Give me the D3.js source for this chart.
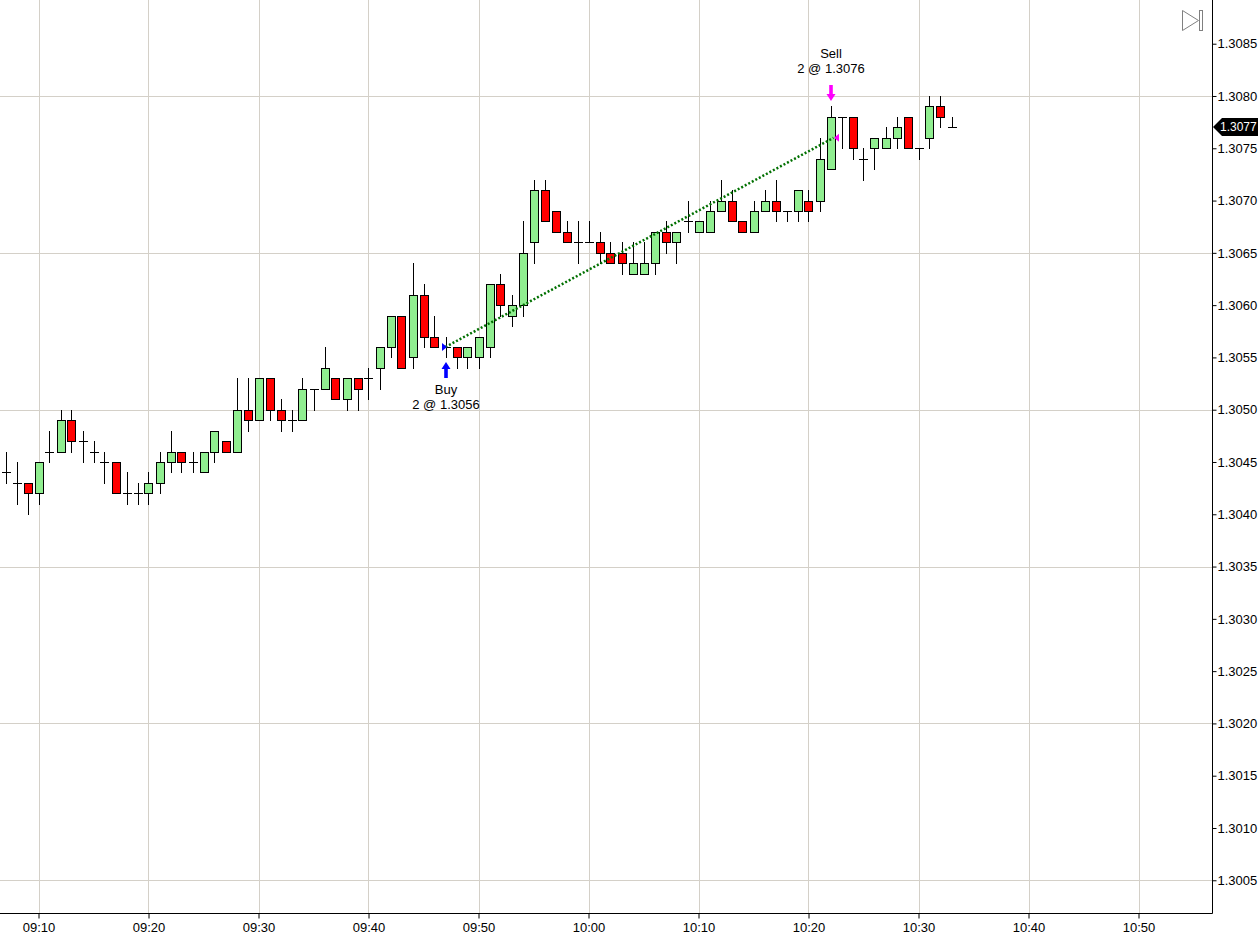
<!DOCTYPE html>
<html>
<head>
<meta charset="utf-8">
<script src="https://cdn.jsdelivr.net/npm/d3@7"></script>
<style>
  html, body { margin: 0; padding: 0; background: #fff; }
  svg { display: block; font-family: "Liberation Sans", Arial, sans-serif; }
</style>
</head>
<body>
<svg id="chart" width="1258" height="946"></svg>
<script>

// Bars, 1 minute each

var times = ["09:07","09:08","09:09","09:10","09:11","09:12","09:13","09:14","09:15","09:16",
  "09:17","09:18","09:19","09:20","09:21","09:22","09:23","09:24","09:25","09:26",
  "09:27","09:28","09:29","09:30","09:31","09:32","09:33","09:34","09:35","09:36",
  "09:37","09:38","09:39","09:40","09:41","09:42","09:43","09:44","09:45","09:46",
  "09:47","09:48","09:49","09:50","09:51","09:52","09:53","09:54","09:55","09:56",
  "09:57","09:58","09:59","10:00","10:01","10:02","10:03","10:04","10:05","10:06",
  "10:07","10:08","10:09","10:10","10:11","10:12","10:13","10:14","10:15","10:16",
  "10:17","10:18","10:19","10:20","10:21","10:22","10:23","10:24","10:25","10:26",
  "10:27","10:28","10:29","10:30","10:31","10:32","10:33"];

var opens = [1.3044,1.3043,1.3043,1.3042,1.3046,1.3046,1.3049,1.3047,1.3046,1.3045,
  1.3045,1.3042,1.3042,1.3042,1.3043,1.3045,1.3046,1.3045,1.3044,1.3046,
  1.3047,1.3046,1.3050,1.3049,1.3053,1.3050,1.3049,1.3049,1.3052,1.3052,
  1.3053,1.3051,1.3053,1.3053,1.3054,1.3056,1.3059,1.3055,1.3061,1.3057,
  1.3056,1.3056,1.3055,1.3055,1.3056,1.3062,1.3059,1.3060,1.3066,1.3071,
  1.3069,1.3067,1.3066,1.3066,1.3066,1.3065,1.3065,1.3063,1.3063,1.3064,
  1.3067,1.3066,1.3068,1.3067,1.3067,1.3069,1.3070,1.3068,1.3067,1.3069,
  1.3070,1.3069,1.3069,1.3070,1.3070,1.3073,1.3078,1.3078,1.3074,1.3075,
  1.3075,1.3076,1.3078,1.3075,1.3076,1.3079,1.3077];

var highs = [1.3046,1.3045,1.3043,1.3045,1.3048,1.3050,1.3050,1.3048,1.3047,1.3046,
  1.3045,1.3044,1.3043,1.3044,1.3046,1.3048,1.3046,1.3046,1.3046,1.3048,
  1.3047,1.3053,1.3053,1.3053,1.3053,1.3051,1.3050,1.3053,1.3052,1.3056,
  1.3053,1.3053,1.3053,1.3054,1.3056,1.3059,1.3059,1.3064,1.3062,1.3059,
  1.3057,1.3056,1.3056,1.3057,1.3062,1.3063,1.3061,1.3068,1.3072,1.3072,
  1.3069,1.3068,1.3068,1.3068,1.3067,1.3066,1.3066,1.3066,1.3066,1.3067,
  1.3068,1.3067,1.3070,1.3068,1.3070,1.3072,1.3071,1.3068,1.3070,1.3071,
  1.3072,1.3069,1.3071,1.3071,1.3076,1.3079,1.3078,1.3078,1.3075,1.3076,
  1.3077,1.3078,1.3078,1.3075,1.3080,1.3080,1.3078];

var lows = [1.3043,1.3041,1.3040,1.3041,1.3045,1.3046,1.3046,1.3045,1.3045,1.3043,
  1.3042,1.3041,1.3041,1.3041,1.3042,1.3044,1.3044,1.3044,1.3044,1.3045,
  1.3046,1.3046,1.3048,1.3049,1.3049,1.3048,1.3048,1.3049,1.3050,1.3052,
  1.3051,1.3050,1.3050,1.3051,1.3052,1.3055,1.3054,1.3054,1.3056,1.3056,
  1.3055,1.3054,1.3054,1.3054,1.3055,1.3059,1.3058,1.3059,1.3064,1.3068,
  1.3067,1.3066,1.3064,1.3066,1.3064,1.3064,1.3063,1.3063,1.3063,1.3063,
  1.3065,1.3064,1.3067,1.3067,1.3067,1.3069,1.3068,1.3067,1.3067,1.3069,
  1.3068,1.3068,1.3068,1.3068,1.3069,1.3073,1.3075,1.3074,1.3072,1.3073,
  1.3075,1.3075,1.3075,1.3074,1.3075,1.3077,1.3077];

var closes = [1.3044,1.3043,1.3042,1.3045,1.3046,1.3049,1.3047,1.3047,1.3046,1.3045,
  1.3042,1.3042,1.3042,1.3043,1.3045,1.3046,1.3045,1.3045,1.3046,1.3048,
  1.3046,1.3050,1.3049,1.3053,1.3050,1.3049,1.3049,1.3052,1.3052,1.3054,
  1.3051,1.3053,1.3052,1.3053,1.3056,1.3059,1.3054,1.3061,1.3057,1.3056,
  1.3056,1.3055,1.3056,1.3057,1.3062,1.3060,1.3060,1.3065,1.3071,1.3068,
  1.3067,1.3066,1.3066,1.3066,1.3065,1.3064,1.3064,1.3064,1.3064,1.3067,
  1.3066,1.3067,1.3068,1.3068,1.3069,1.3070,1.3068,1.3067,1.3069,1.3070,
  1.3069,1.3069,1.3071,1.3069,1.3074,1.3078,1.3078,1.3075,1.3074,1.3076,
  1.3076,1.3077,1.3075,1.3075,1.3079,1.3078,1.3077];

// Trades

var tradeSides  = ["Buy", "Sell"],
    tradeTimes  = ["09:47", "10:22"],
    tradeQty    = [2, 2],
    tradePrices = [1.3056, 1.3076];

// Axis ticks

var xTickLabels = ["09:10","09:20","09:30","09:40","09:50","10:00","10:10","10:20","10:30","10:40","10:50"];
var yTickValues = [1.3005,1.3010,1.3015,1.3020,1.3025,1.3030,1.3035,1.3040,1.3045,
  1.3050,1.3055,1.3060,1.3065,1.3070,1.3075,1.3080,1.3085];
var yGridValues = [1.3005,1.3020,1.3035,1.3050,1.3065,1.3080];

var lastPrice = closes[closes.length - 1];

// Layout

var plotW = 1212,
    plotH = 913,
    boxW = 8,
    gridColor = "#d4d0c8",
    upColor = "#90ee90",
    downColor = "#ff0000";

var parseT = d3.timeParse("%H:%M");

var bars = times.map(function(t, i) {
  return { t: parseT(t), o: opens[i], h: highs[i], l: lows[i], c: closes[i] };
});

// 11px per minute, 09:10 sits at 38.5
var x = d3.scaleTime()
  .domain([parseT("09:06"), parseT("10:57")])
  .range([38.5 - 4 * 11, 38.5 + 107 * 11]);

var y = d3.scaleLinear()
  .domain([1.300187, 1.308918])
  .range([plotH, 0]);

var svg = d3.select("#chart");

var px = function(v) { return Math.round(v) + 0.5; };

// Grid

svg.append("g").selectAll("line")
  .data(xTickLabels)
  .enter().append("line")
  .attr("x1", function(d) { return px(x(parseT(d))); })
  .attr("x2", function(d) { return px(x(parseT(d))); })
  .attr("y1", 0)
  .attr("y2", plotH)
  .style("stroke", gridColor);

svg.append("g").selectAll("line")
  .data(yGridValues)
  .enter().append("line")
  .attr("x1", 0)
  .attr("x2", plotW)
  .attr("y1", function(d) { return px(y(d)); })
  .attr("y2", function(d) { return px(y(d)); })
  .style("stroke", gridColor);

// Candles

var candle = svg.append("g").selectAll(".candle")
  .data(bars)
  .enter()
  .append("g")
  .attr("class", "candle")
  .attr("shape-rendering", "crispEdges");

candle.append("line")
  .attr("x1", function(d) { return px(x(d.t)); })
  .attr("x2", function(d) { return px(x(d.t)); })
  .attr("y1", function(d) { return Math.round(y(d.h)); })
  .attr("y2", function(d) { return Math.round(y(d.l)) + 1; })
  .style("stroke", "#000")
  .style("stroke-width", 1.5);

candle.filter(function(d) { return d.o !== d.c; })
  .append("rect")
  .attr("x", function(d) { return Math.round(x(d.t)) - boxW / 2 + 0.5; })
  .attr("y", function(d) { return Math.round(y(Math.max(d.o, d.c))) + 0.5; })
  .attr("width", boxW)
  .attr("height", function(d) { return Math.round(y(Math.min(d.o, d.c))) - Math.round(y(Math.max(d.o, d.c))); })
  .style("fill", function(d) { return d.c > d.o ? upColor : downColor; })
  .style("stroke", "#000")
  .style("stroke-width", 1.5);

candle.filter(function(d) { return d.o === d.c; })
  .append("line")
  .attr("x1", function(d) { return Math.round(x(d.t)) - boxW / 2; })
  .attr("x2", function(d) { return Math.round(x(d.t)) + boxW / 2 + 1; })
  .attr("y1", function(d) { return px(y(d.c)); })
  .attr("y2", function(d) { return px(y(d.c)); })
  .style("stroke", "#000")
  .style("stroke-width", 1.5);

// Trade line, entry to exit

var buyX = x(parseT(tradeTimes[0])),
    buyY = y(tradePrices[0]),
    sellX = x(parseT(tradeTimes[1])),
    sellY = y(tradePrices[1]);

svg.append("line")
  .attr("x1", buyX)
  .attr("y1", buyY)
  .attr("x2", sellX + 3)
  .attr("y2", sellY)
  .style("stroke", "#007000")
  .style("stroke-width", 2.5)
  .style("stroke-dasharray", "2,2");

// Trade markers

var trades = tradeSides.map(function(s, i) {
  return { side: s, t: parseT(tradeTimes[i]), q: tradeQty[i], p: tradePrices[i], bar: bars[times.indexOf(tradeTimes[i])] };
});

trades.forEach(function(d) {
  var cx = Math.round(x(d.t)),
      py = y(d.p),
      g = svg.append("g"),
      color, ay;
  if (d.side === "Buy") {
    color = "#0000ff";
    ay = Math.round(y(d.bar.l)) + 5;
    g.append("path")
      .attr("d", "M" + (cx - 4) + "," + (py - 4) + "L" + (cx + 1) + "," + py + "L" + (cx - 4) + "," + (py + 4) + "Z")
      .style("fill", color);
    g.append("path")
      .attr("d", "M" + cx + "," + ay + "L" + (cx + 4.5) + "," + (ay + 7) + "L" + (cx + 1.8) + "," + (ay + 7) +
        "L" + (cx + 1.8) + "," + (ay + 16) + "L" + (cx - 1.8) + "," + (ay + 16) + "L" + (cx - 1.8) + "," + (ay + 7) +
        "L" + (cx - 4.5) + "," + (ay + 7) + "Z")
      .style("fill", color);
    g.append("text").attr("x", cx).attr("y", ay + 32).text(d.side);
    g.append("text").attr("x", cx).attr("y", ay + 47).text(d.q + " @ " + d3.format(".4f")(d.p));
  } else {
    color = "#ff00ff";
    ay = Math.round(y(d.bar.h)) - 5;
    g.append("path")
      .attr("d", "M" + (cx + 8) + "," + (py - 4) + "L" + (cx + 3) + "," + py + "L" + (cx + 8) + "," + (py + 4) + "Z")
      .style("fill", color);
    g.append("path")
      .attr("d", "M" + cx + "," + ay + "L" + (cx + 4.5) + "," + (ay - 7) + "L" + (cx + 1.8) + "," + (ay - 7) +
        "L" + (cx + 1.8) + "," + (ay - 16) + "L" + (cx - 1.8) + "," + (ay - 16) + "L" + (cx - 1.8) + "," + (ay - 7) +
        "L" + (cx - 4.5) + "," + (ay - 7) + "Z")
      .style("fill", color);
    g.append("text").attr("x", cx).attr("y", ay - 43).text(d.side);
    g.append("text").attr("x", cx).attr("y", ay - 28).text(d.q + " @ " + d3.format(".4f")(d.p));
  }
  g.selectAll("text")
    .style("text-anchor", "middle")
    .style("font-size", "13px")
    .style("fill", "#000");
});

// Axes

var xAxis = d3.axisBottom(x)
  .tickValues(xTickLabels.map(parseT))
  .tickFormat(d3.timeFormat("%H:%M"))
  .tickSize(5)
  .tickSizeOuter(0)
  .tickPadding(4);

svg.append("g")
  .attr("transform", "translate(0," + (plotH + 0.5) + ")")
  .call(xAxis)
  .call(function(g) {
    g.select(".domain").attr("d", "M0,0H" + (plotW + 0.5));
    g.selectAll("text").attr("font-size", 13).attr("font-family", "Liberation Sans, Arial, sans-serif").style("fill", "#000");
  });

var yAxis = d3.axisRight(y)
  .tickValues(yTickValues)
  .tickFormat(d3.format(".4f"))
  .tickSize(4)
  .tickSizeOuter(0)
  .tickPadding(1);

svg.append("g")
  .attr("transform", "translate(" + (plotW + 0.5) + ",0)")
  .call(yAxis)
  .call(function(g) {
    g.select(".domain").attr("d", "M0,0V" + (plotH + 0.5));
    g.selectAll("text").attr("font-size", 13).attr("font-family", "Liberation Sans, Arial, sans-serif").style("fill", "#000");
  });

// Last price flag

var ly = Math.round(y(lastPrice));
svg.append("path")
  .attr("d", "M" + (plotW + 1) + "," + ly + "L" + (plotW + 10) + "," + (ly - 9) + "L1258," + (ly - 9) + "L1258," + (ly + 9) + "L" + (plotW + 10) + "," + (ly + 9) + "Z")
  .style("fill", "#000");
svg.append("text")
  .attr("x", plotW + 8)
  .attr("y", ly)
  .attr("dy", "0.35em")
  .style("font-size", "12px")
  .style("fill", "#fff")
  .text(d3.format(".4f")(lastPrice));

// Scroll-to-end icon

svg.append("path")
  .attr("d", "M1182.5,10.5L1198.5,20.5L1182.5,30.5Z")
  .style("fill", "none")
  .style("stroke", "#808080");
svg.append("rect")
  .attr("x", 1199.5).attr("y", 10.5)
  .attr("width", 3).attr("height", 20)
  .style("fill", "none")
  .style("stroke", "#808080");

</script>
</body>
</html>
